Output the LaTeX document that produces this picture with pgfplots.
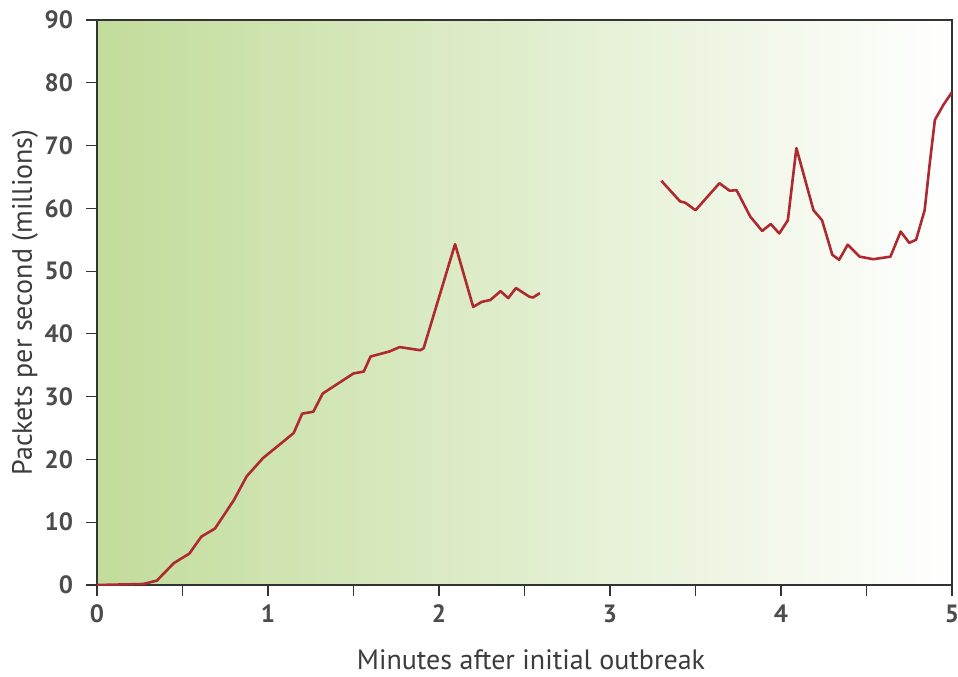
\documentclass[border=0pt]{standalone}
\usepackage{pgfplots}
\pgfplotsset{compat=1.18}
\usepackage{fontspec}
\setmainfont{PT Sans}

\definecolor{bggreen}{RGB}{194,220,155}
\definecolor{bgmid}{RGB}{219,235,196}
\definecolor{linered}{RGB}{172,42,48}
\definecolor{txtgray}{RGB}{60,60,60}

\begin{document}
\begin{tikzpicture}
\begin{axis}[
    scale only axis,
    width=427.5pt, height=282.5pt,
    xmin=0, xmax=5,
    ymin=0, ymax=90,
    xtick={0,1,2,3,4,5},
    minor xtick={0.5,1.5,2.5,3.5,4.5},
    ytick={0,10,20,30,40,50,60,70,80,90},
    tick align=outside,
    major tick length=5.5pt,
    minor tick length=5.5pt,
    tick style={draw=black!80, line width=0.6pt},
    xtick pos=bottom, ytick pos=left,
    axis line style={draw=black!80, line width=0.7pt},
    axis background/.style={left color=bggreen, middle color=bgmid, right color=white},
    /pgf/number format/assume math mode=true,
    tick label style={font=\fontsize{12.5}{14}\selectfont\bfseries, text=black!70},
    yticklabel style={xshift=-3pt},
    xticklabel style={yshift=-1pt},
    xlabel={Minutes after initial outbreak},
    ylabel={Packets per second (millions)},
    label style={font=\fontsize{14}{16}\selectfont, text=txtgray},
    xlabel style={at={(axis description cs:0.5076,-0.1327)}, anchor=center},
    ylabel style={at={(axis description cs:-0.0842,0.5)}, anchor=center, rotate=0},
]
\addplot[color=linered, line width=1.3pt, line join=round] coordinates {
    (0,0) (0.27,0.16) (0.35,0.7) (0.45,3.5) (0.54,5.0) (0.61,7.7) (0.69,9.0)
    (0.80,13.5) (0.875,17.3) (0.97,20.2) (1.15,24.2) (1.20,27.3) (1.265,27.6)
    (1.32,30.5) (1.50,33.7) (1.56,34.0) (1.60,36.4) (1.71,37.2) (1.77,37.9)
    (1.89,37.4) (1.91,37.7) (2.094,54.3) (2.20,44.3) (2.25,45.1) (2.30,45.4)
    (2.36,46.8) (2.405,45.7) (2.45,47.3) (2.53,45.9) (2.55,45.8) (2.59,46.5)
};
\addplot[color=linered, line width=1.3pt, line join=round] coordinates {
    (3.30,64.4) (3.41,61.1) (3.44,60.9) (3.50,59.7) (3.64,64.0) (3.70,62.8)
    (3.74,62.9) (3.82,58.7) (3.89,56.4) (3.94,57.5) (3.99,56.0) (4.04,58.1)
    (4.09,69.6) (4.19,59.7) (4.24,58.1) (4.30,52.6) (4.34,51.8) (4.39,54.2)
    (4.46,52.3) (4.54,51.9) (4.64,52.3) (4.70,56.3) (4.75,54.5) (4.79,55.0)
    (4.84,59.7) (4.87,67.2) (4.90,74.1) (4.95,76.5) (5.0,78.5)
};
\coordinate (sw) at (rel axis cs:0,0);
\coordinate (ne) at (rel axis cs:1,1);
\end{axis}
\pgfresetboundingbox
\path ([shift={(-48.5pt,-45.5pt)}]sw) rectangle ([shift={(3pt,10pt)}]ne);
\end{tikzpicture}
\end{document}
